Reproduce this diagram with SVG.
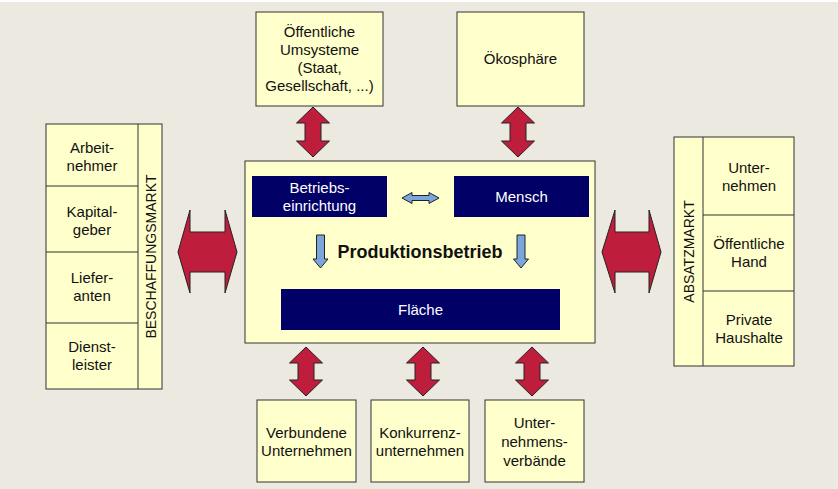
<svg xmlns="http://www.w3.org/2000/svg" width="838" height="489" viewBox="0 0 838 489">
<style>
.bg{fill:#ECE9E0}
.box{fill:#FFFFCC;stroke:#333;stroke-width:1}
.dark{fill:#000066}
.t{font-family:"Liberation Sans",Arial,sans-serif;font-size:15px;fill:#111;text-anchor:middle}
.w{fill:#fff}
.v{font-size:14px}
.b{font-weight:bold;font-size:18px}
.red{fill:#BE1E3C;stroke:#222;stroke-width:1}
.blue{fill:#7AA6DC;stroke:#222;stroke-width:1}
</style>
<rect class="bg" x="0" y="0" width="838" height="489"/>
<rect x="0" y="0" width="838" height="2" fill="#fff"/>

<g id="connectors">
  <polygon class="red" points="313,107 329.5,123 321,123 321,141 329.5,141 313,157 296.5,141 305,141 305,123 296.5,123"/>
  <polygon class="red" points="518,107 534.5,123 526,123 526,141 534.5,141 518,157 501.5,141 510,141 510,123 501.5,123"/>
  <polygon class="red" points="306,347 322.5,363 314,363 314,380 322.5,380 306,396 289.5,380 298,380 298,363 289.5,363"/>
  <polygon class="red" points="423,347 439.5,363 431,363 431,380 439.5,380 423,396 406.5,380 415,380 415,363 406.5,363"/>
  <polygon class="red" points="532,347 548.5,363 540,363 540,380 548.5,380 532,396 515.5,380 524,380 524,363 515.5,363"/>
  <polygon class="red" points="178,252 190,210 190,232 225,232 225,210 237,252 225,293 225,272 190,272 190,293"/>
  <polygon class="red" points="602,252 615,210 615,232 649,232 649,210 661,252 649,293 649,272 615,272 615,293"/>
</g>

<g id="oeffentliche-umsysteme">
  <rect class="box" x="256" y="12" width="127" height="94"/>
  <text class="t" x="319.5" y="37">Öffentliche</text>
  <text class="t" x="319.5" y="55">Umsysteme</text>
  <text class="t" x="319.5" y="73">(Staat,</text>
  <text class="t" x="319.5" y="91">Gesellschaft, ...)</text>
</g>
<g id="oekosphaere">
  <rect class="box" x="457" y="12" width="127" height="94"/>
  <text class="t" x="520.5" y="64">Ökosphäre</text>
</g>

<g id="produktionsbetrieb">
  <rect class="box" x="245" y="161" width="350" height="182"/>
  <text class="t b" x="420" y="258">Produktionsbetrieb</text>
  <polygon class="blue" points="402,198 412,192.5 412,195.5 429,195.5 429,192.5 439,198 429,203.5 429,200.5 412,200.5 412,203.5"/>
  <polygon class="blue" points="316.5,235 324.5,235 324.5,259 328,259 320.5,268 313,259 316.5,259"/>
  <polygon class="blue" points="517,235 525,235 525,259 528.5,259 521,268 513.5,259 517,259"/>
</g>
<g id="betriebseinrichtung">
  <rect class="dark" x="252" y="176" width="135" height="41"/>
  <text class="t w" x="319.5" y="193">Betriebs-</text>
  <text class="t w" x="319.5" y="211">einrichtung</text>
</g>
<g id="mensch">
  <rect class="dark" x="454" y="176" width="135" height="41"/>
  <text class="t w" x="521.5" y="202">Mensch</text>
</g>
<g id="flaeche">
  <rect class="dark" x="281" y="289" width="279" height="41"/>
  <text class="t w" x="420.5" y="315">Fläche</text>
</g>

<g id="beschaffungsmarkt">
  <rect class="box" x="46" y="124" width="116" height="265"/>
  <line x1="138" y1="124" x2="138" y2="389" stroke="#333"/>
  <line x1="46" y1="186" x2="138" y2="186" stroke="#333"/>
  <line x1="46" y1="252" x2="138" y2="252" stroke="#333"/>
  <line x1="46" y1="323" x2="138" y2="323" stroke="#333"/>
  <text class="t v" transform="translate(156,256.5) rotate(-90)" x="0" y="0">BESCHAFFUNGSMARKT</text>
  <text class="t" x="92" y="153">Arbeit-</text>
  <text class="t" x="92" y="171">nehmer</text>
  <text class="t" x="92" y="217">Kapital-</text>
  <text class="t" x="92" y="235">geber</text>
  <text class="t" x="92" y="283">Liefer-</text>
  <text class="t" x="92" y="301">anten</text>
  <text class="t" x="92" y="352">Dienst-</text>
  <text class="t" x="92" y="370">leister</text>
</g>

<g id="absatzmarkt">
  <rect class="box" x="674" y="137" width="120" height="229"/>
  <line x1="703" y1="137" x2="703" y2="366" stroke="#333"/>
  <line x1="703" y1="215" x2="794" y2="215" stroke="#333"/>
  <line x1="703" y1="291" x2="794" y2="291" stroke="#333"/>
  <text class="t v" transform="translate(694,251.5) rotate(-90)" x="0" y="0">ABSATZMARKT</text>
  <text class="t" x="749" y="173">Unter-</text>
  <text class="t" x="749" y="191">nehmen</text>
  <text class="t" x="749" y="249">Öffentliche</text>
  <text class="t" x="749" y="267">Hand</text>
  <text class="t" x="749" y="325">Private</text>
  <text class="t" x="749" y="343">Haushalte</text>
</g>

<g id="verbundene-unternehmen">
  <rect class="box" x="257" y="400" width="99" height="82"/>
  <text class="t" x="306.5" y="438">Verbundene</text>
  <text class="t" x="306.5" y="456">Unternehmen</text>
</g>
<g id="konkurrenzunternehmen">
  <rect class="box" x="371" y="400" width="98" height="82"/>
  <text class="t" x="420" y="438">Konkurrenz-</text>
  <text class="t" x="420" y="456">unternehmen</text>
</g>
<g id="unternehmensverbaende">
  <rect class="box" x="485" y="400" width="99" height="82"/>
  <text class="t" x="534.5" y="428">Unter-</text>
  <text class="t" x="534.5" y="447">nehmens-</text>
  <text class="t" x="534.5" y="466">verbände</text>
</g>
</svg>
